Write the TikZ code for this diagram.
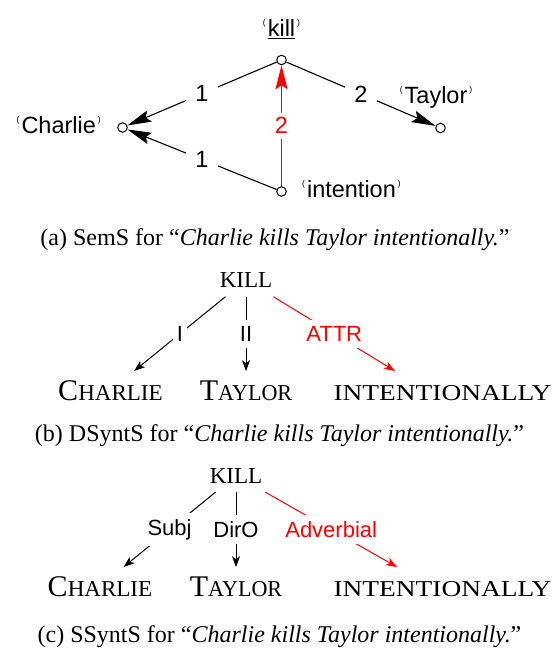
\documentclass[tikz,border=0pt]{standalone}
\usepackage{fontspec}
\setmainfont{Liberation Serif}
\newfontfamily\semsans{Liberation Sans}
\usepackage{graphicx}
\usetikzlibrary{arrows.meta}

\newcommand\semL{\raisebox{11pt}{\fontsize{8.5}{8.5}\selectfont(}\kern2pt}
\newcommand\semR{\kern2pt\raisebox{11pt}{\fontsize{8.5}{8.5}\selectfont)}}
\newcommand\scpart[2]{\resizebox{#1}{15pt}{\fontsize{20}{20}\selectfont #2}}
\newcommand\capbig[1]{{\fontsize{30}{30}\selectfont #1}}

\begin{document}
\begin{tikzpicture}[x=1pt,y=-1pt,
  semnode/.style={circle,draw,fill=white,minimum size=9.5pt,inner sep=0pt,line width=1pt},
  semtext/.style={font=\fontsize{23.5}{23.5}\selectfont\semsans, inner sep=0pt},
  alab/.style={fill=white, font=\fontsize{23.5}{23.5}\selectfont\semsans, inner xsep=9pt, inner ysep=5pt},
  blab/.style={fill=white, font=\fontsize{22}{22}\selectfont\semsans, inner xsep=4pt, inner ysep=6.5pt},
  word/.style={inner sep=9pt, anchor=base},
  bigarrow/.style={-{Stealth[length=24pt,width=12pt,inset=4pt]}, line width=1.1pt},
  smallarrow/.style={-{Stealth[length=11pt,width=8pt,inset=3pt]}, line width=1pt},
  caption/.style={font=\fontsize{24}{24}\selectfont, anchor=base, inner sep=0pt},
]
\useasboundingbox (0,0) rectangle (558,648);

% ---------- (a) SemS ----------
\node[semnode] (kill) at (281.5,60) {};
\node[semnode] (charlie) at (122.5,127.5) {};
\node[semnode] (taylor) at (440.5,128) {};
\node[semnode] (intention) at (281.5,191.5) {};

\node[semtext, anchor=base] (killlab) at (281.5,36.5) {\semL\underline{kill}\semR};
\node[semtext, anchor=base east] (charlielab) at (101,133) {\semL Charlie\semR};
\node[semtext, anchor=base] (taylorlab) at (436,103) {\semL Taylor\semR};
\node[semtext, anchor=base west] (intentionlab) at (302,197) {\semL intention\semR};

\draw[bigarrow] (kill) -- node[alab]{1} (charlie);
\draw[bigarrow] (kill) -- node[alab]{2} (taylor);
\draw[bigarrow] (intention) -- node[alab]{1} (charlie);
\draw[bigarrow, red] (intention) -- node[alab, text=red]{2} (kill);

\node[caption] (capa) at (275,245.5) {(a) SemS for “\textit{Charlie kills Taylor intentionally.}”};

% ---------- (b) DSyntS ----------
\node[word] (bkill) at (246,287.5) {\scpart{52.5pt}{KILL}};
\node[word] (bcharlie) at (110.5,400) {\capbig{C}\scpart{84.5pt}{HARLIE}};
\node[word] (btaylor) at (246,400) {\capbig{T}\scpart{74pt}{AYLOR}};
\node[word] (bintent) at (442.5,400) {\scpart{218pt}{INTENTIONALLY}};
\coordinate (battrtip) at (395,371);

\draw[smallarrow] (bkill) -- node[blab]{I} (bcharlie);
\draw[smallarrow] (bkill) -- node[blab]{II} (btaylor);
\draw[smallarrow, red] (bkill) -- node[blab, text=red]{ATTR} (battrtip);

\node[caption] (capb) at (279.5,441) {(b) DSyntS for “\textit{Charlie kills Taylor intentionally.}”};

% ---------- (c) SSyntS ----------
\node[word] (ckill) at (236,483) {\scpart{52.5pt}{KILL}};
\node[word] (ccharlie) at (100,596) {\capbig{C}\scpart{84.5pt}{HARLIE}};
\node[word] (ctaylor) at (236,596) {\capbig{T}\scpart{74pt}{AYLOR}};
\node[word] (cintent) at (442.5,596) {\scpart{218pt}{INTENTIONALLY}};
\coordinate (cadvtip) at (397,567);

\draw[smallarrow] (ckill) -- node[blab]{Subj} (ccharlie);
\draw[smallarrow] (ckill) -- node[blab]{DirO} (ctaylor);
\draw[smallarrow, red] (ckill) -- node[blab, text=red]{Adverbial} (cadvtip);

\node[caption] (capc) at (279.5,642) {(c) SSyntS for “\textit{Charlie kills Taylor intentionally.}”};
\end{tikzpicture}
\end{document}
